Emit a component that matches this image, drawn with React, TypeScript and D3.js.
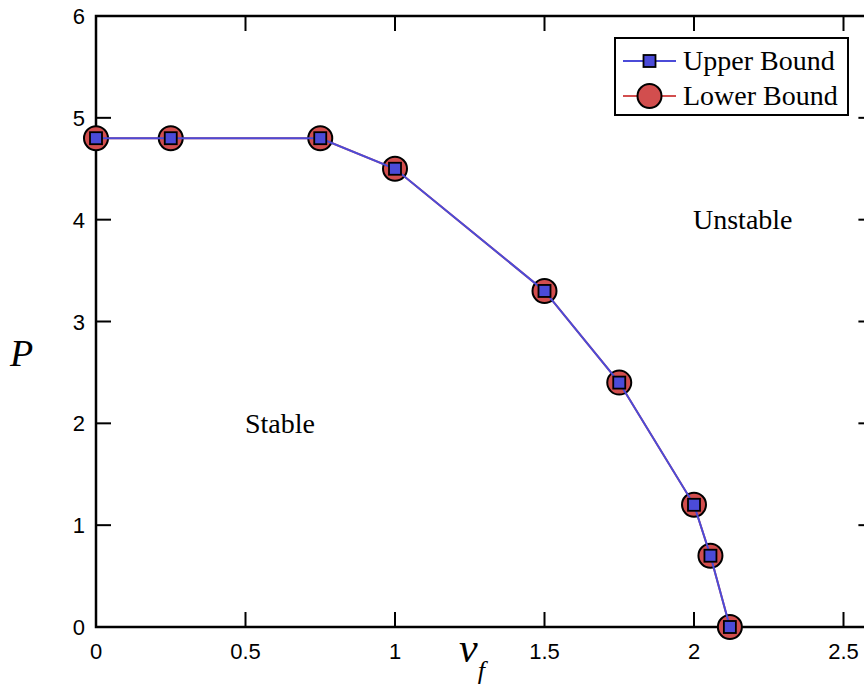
import { useEffect, useRef } from "react"
import * as d3 from "d3"

// data
const vf = [0, 0.25, 0.75, 1, 1.5, 1.75, 2, 2.055, 2.12]
const upperBound = [4.8, 4.8, 4.8, 4.5, 3.3, 2.4, 1.2, 0.7, 0]
const lowerBound = [4.8, 4.8, 4.8, 4.5, 3.3, 2.4, 1.2, 0.7, 0]
const xTicks = [0, 0.5, 1, 1.5, 2, 2.5]
const yTicks = [0, 1, 2, 3, 4, 5, 6]
const legendLabels = ["Upper Bound", "Lower Bound"]

const BLUE = "#4b4bd8"
const RED = "#d24e4e"
const SERIF = "Liberation Serif, Times New Roman, serif"
const SANS = "Liberation Sans, Arial, sans-serif"

const App = () => {
  const ref = useRef<SVGSVGElement>(null)

  useEffect(() => {
    const svg = d3.select(ref.current)
    svg.selectAll("*").remove()

    const margin = { top: 16, left: 96 }
    const x = d3.scaleLinear().domain([0, 2.6]).range([margin.left, margin.left + 299 * 2.6])
    const y = d3.scaleLinear().domain([0, 6]).range([627, margin.top])

    const g = svg.append("g")

    // frame
    g.append("rect")
      .attr("x", x(0))
      .attr("y", y(6))
      .attr("width", x(2.6) - x(0))
      .attr("height", y(0) - y(6))
      .attr("fill", "none")
      .attr("stroke", "#000")
      .attr("stroke-width", 2.5)

    const tickLen = 15
    // x ticks (bottom + top, inward)
    xTicks.forEach((t) => {
      g.append("line")
        .attr("x1", x(t)).attr("x2", x(t))
        .attr("y1", y(0)).attr("y2", y(0) - tickLen)
        .attr("stroke", "#000").attr("stroke-width", 2)
      g.append("line")
        .attr("x1", x(t)).attr("x2", x(t))
        .attr("y1", y(6)).attr("y2", y(6) + tickLen)
        .attr("stroke", "#000").attr("stroke-width", 2)
      g.append("text")
        .text(String(t))
        .attr("x", x(t))
        .attr("y", y(0) + 32)
        .attr("text-anchor", "middle")
        .attr("font-family", SANS)
        .attr("font-size", 22)
    })
    // y ticks (left + right, inward)
    yTicks.forEach((t) => {
      g.append("line")
        .attr("x1", x(0)).attr("x2", x(0) + tickLen)
        .attr("y1", y(t)).attr("y2", y(t))
        .attr("stroke", "#000").attr("stroke-width", 2)
      g.append("line")
        .attr("x1", x(2.6)).attr("x2", x(2.6) - tickLen)
        .attr("y1", y(t)).attr("y2", y(t))
        .attr("stroke", "#000").attr("stroke-width", 2)
      g.append("text")
        .text(String(t))
        .attr("x", x(0) - 11)
        .attr("y", y(t) + 8)
        .attr("text-anchor", "end")
        .attr("font-family", SANS)
        .attr("font-size", 22)
    })

    const line = d3.line<[number, number]>().x((d) => x(d[0])).y((d) => y(d[1]))

    // lower bound line + markers
    const pts = vf.map((v, i) => [v, lowerBound[i]] as [number, number])
    g.append("path")
      .attr("d", line(pts))
      .attr("fill", "none")
      .attr("stroke", RED)
      .attr("stroke-width", 2)
    g.selectAll(".lb")
      .data(pts)
      .enter()
      .append("circle")
      .attr("cx", (d) => x(d[0]))
      .attr("cy", (d) => y(d[1]))
      .attr("r", 12)
      .attr("fill", RED)
      .attr("stroke", "#000")
      .attr("stroke-width", 2)

    // upper bound line + markers
    const up = vf.map((v, i) => [v, upperBound[i]] as [number, number])
    g.append("path")
      .attr("d", line(up))
      .attr("fill", "none")
      .attr("stroke", BLUE)
      .attr("stroke-width", 2)
    g.selectAll(".ub")
      .data(up)
      .enter()
      .append("rect")
      .attr("x", (d) => x(d[0]) - 6)
      .attr("y", (d) => y(d[1]) - 6)
      .attr("width", 12)
      .attr("height", 12)
      .attr("fill", BLUE)
      .attr("stroke", "#000")
      .attr("stroke-width", 1.8)

    // region labels
    g.append("text")
      .text("Stable")
      .attr("x", 245).attr("y", 433)
      .attr("font-family", SERIF)
      .attr("font-size", 28)
    g.append("text")
      .text("Unstable")
      .attr("x", 693).attr("y", 229)
      .attr("font-family", SERIF)
      .attr("font-size", 28)

    // axis labels
    g.append("text")
      .text("P")
      .attr("x", 10).attr("y", 366)
      .attr("font-family", SERIF)
      .attr("font-style", "italic")
      .attr("font-size", 38)
    const xl = g.append("text")
      .attr("x", 459).attr("y", 662)
      .attr("font-family", SERIF)
      .attr("font-style", "italic")
      .attr("font-size", 42)
    xl.append("tspan").text("v")
    xl.append("tspan").text("f").attr("font-size", 26).attr("dy", 17).attr("dx", 0)

    // legend
    const lg = g.append("g")
    lg.append("rect")
      .attr("x", 615).attr("y", 38)
      .attr("width", 233).attr("height", 77)
      .attr("fill", "#fff")
      .attr("stroke", "#000")
      .attr("stroke-width", 2)
    legendLabels.forEach((label, i) => {
      const cy = 61 + i * 35
      lg.append("line")
        .attr("x1", 623).attr("x2", 676)
        .attr("y1", cy).attr("y2", cy)
        .attr("stroke", i === 0 ? BLUE : RED)
        .attr("stroke-width", 2)
      if (i === 0) {
        lg.append("rect")
          .attr("x", 649.5 - 6).attr("y", cy - 6)
          .attr("width", 12).attr("height", 12)
          .attr("fill", BLUE).attr("stroke", "#000").attr("stroke-width", 1.8)
      } else {
        lg.append("circle")
          .attr("cx", 649.5).attr("cy", cy).attr("r", 12)
          .attr("fill", RED).attr("stroke", "#000").attr("stroke-width", 2)
      }
      lg.append("text")
        .text(label)
        .attr("x", 683).attr("y", cy + 9)
        .attr("font-family", SERIF)
        .attr("font-size", 28)
    })
  }, [])

  return (
    <svg
      ref={ref}
      width={864}
      height={687}
      style={{ position: "absolute", left: 0, top: 0, background: "#fff" }}
    />
  )
}

export default App
